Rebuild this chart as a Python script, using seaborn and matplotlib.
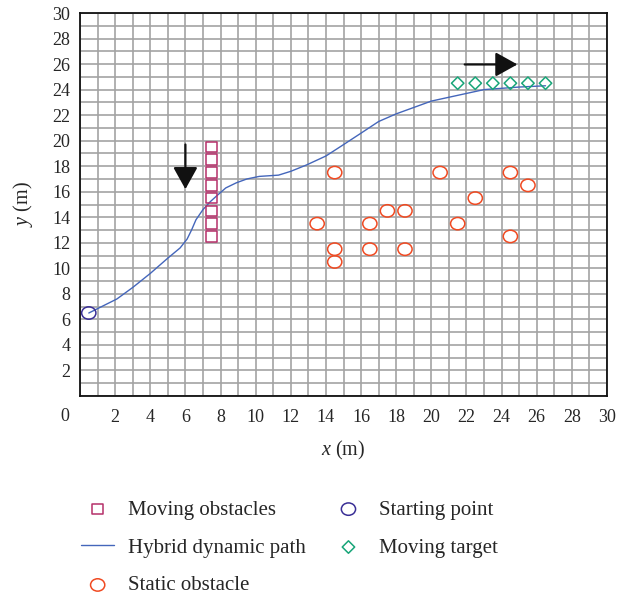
import numpy as np
import seaborn as sns
import matplotlib.pyplot as plt
from matplotlib.path import Path
from matplotlib.transforms import Affine2D

# moving obstacles (column of squares)
moving_obs_x = [7.5, 7.5, 7.5, 7.5, 7.5, 7.5, 7.5, 7.5]
moving_obs_y = [12.5, 13.5, 14.5, 15.5, 16.5, 17.5, 18.5, 19.5]

# static obstacles
static_x = [14.5, 20.5, 24.5, 25.5, 22.5, 17.5, 18.5, 13.5, 16.5, 21.5, 24.5, 14.5, 16.5, 18.5, 14.5]
static_y = [17.5, 17.5, 17.5, 16.5, 15.5, 14.5, 14.5, 13.5, 13.5, 13.5, 12.5, 11.5, 11.5, 11.5, 10.5]

# moving target
target_x = [21.5, 22.5, 23.5, 24.5, 25.5, 26.5]
target_y = [24.5, 24.5, 24.5, 24.5, 24.5, 24.5]

# starting point
start_x = [0.5]
start_y = [6.5]

# hybrid dynamic path
path_x = [0.5, 2.1, 3.0, 4.0, 5.0, 5.7, 6.1, 6.35, 6.6, 7.0, 7.4, 7.8, 8.3, 8.9, 9.5, 10.2,
          11.3, 12.0, 12.9, 14.0, 14.9, 15.9, 17.0, 18.0, 19.0, 20.0, 21.0, 22.0, 23.0,
          24.0, 25.0, 26.5]
path_y = [6.5, 7.6, 8.5, 9.6, 10.8, 11.6, 12.3, 13.0, 13.8, 14.6, 15.2, 15.7, 16.3, 16.7, 17.0,
          17.2, 17.3, 17.6, 18.1, 18.8, 19.6, 20.5, 21.5, 22.1, 22.6, 23.1, 23.4, 23.7, 24.0,
          24.1, 24.2, 24.3]

tick_vals = list(range(0, 31))
tick_labels = ["" if (v == 0 or v % 2) else str(v) for v in tick_vals]

sns.set_theme(style="white")
plt.rcParams["font.family"] = ["Liberation Serif", "DejaVu Serif"]
plt.rcParams["mathtext.fontset"] = "custom"
plt.rcParams["mathtext.it"] = "Liberation Serif:italic"
plt.rcParams["mathtext.rm"] = "Liberation Serif"

fig = plt.figure(figsize=(6.27, 5.95), dpi=100)
ax = fig.add_axes([80 / 627, 1 - 396 / 595, 527 / 627, 383 / 595])

# slightly flattened circle, like the reference
ellipse = Path.unit_circle().transformed(Affine2D().scale(1.15, 1.0))

sns.lineplot(ax=ax, x=path_x, y=path_y, sort=False, estimator=None, color="#4466bb",
             lw=1.0, label="Hybrid dynamic path", zorder=3)
sns.scatterplot(ax=ax, x=moving_obs_x, y=moving_obs_y, marker="s", s=60, facecolor="none",
                edgecolor="#b5306a", linewidth=1.1, label="Moving obstacles", zorder=4)
sns.scatterplot(ax=ax, x=static_x, y=static_y, marker=ellipse, s=105, facecolor="none",
                edgecolor="#f04a22", linewidth=1.1, label="Static obstacle", zorder=4)
sns.scatterplot(ax=ax, x=start_x, y=start_y, marker=ellipse, s=105, facecolor="none",
                edgecolor="#3a2f96", linewidth=1.1, label="Starting point", zorder=4)
sns.scatterplot(ax=ax, x=target_x, y=target_y, marker="D", s=40, facecolor="none",
                edgecolor="#17a578", linewidth=1.1, label="Moving target", zorder=4)

arrow = dict(arrowstyle="-|>,head_length=0.9,head_width=0.5", color="#111111", lw=1.6,
             mutation_scale=15, shrinkA=0, shrinkB=0)
ax.annotate("", xy=(6.0, 16.2), xytext=(6.0, 19.7), arrowprops=arrow, zorder=5)
ax.annotate("", xy=(24.9, 25.97), xytext=(21.9, 25.97), arrowprops=arrow, zorder=5)

ax.set_xlim(0, 30)
ax.set_ylim(0, 30)
ax.set_xticks(tick_vals)
ax.set_yticks(tick_vals)
ax.set_xticklabels(tick_labels)
ax.set_yticklabels(tick_labels)
ax.tick_params(length=0, labelsize=13)
ax.tick_params(axis="x", pad=9)
ax.tick_params(axis="y", pad=7)
ax.grid(True, color="#a3a3a3", lw=1.2)
ax.set_axisbelow(True)
for sp in ax.spines.values():
    sp.set_color("#111111")
    sp.set_linewidth(1.3)
    sp.set_visible(True)
ax.text(-0.85, -1.6, "0", ha="center", va="center", fontsize=13, color="#262626")

ax.set_xlabel("$x$ (m)", fontsize=14.5, labelpad=10)
ax.set_ylabel("$y$ (m)", fontsize=14.5, labelpad=12)

h, l = ax.get_legend_handles_labels()
order = ["Moving obstacles", "Hybrid dynamic path", "Static obstacle", "Starting point", "Moving target"]
hd = dict(zip(l, h))
ax.legend([hd[k] for k in order], order, ncol=2, frameon=False, fontsize=15,
          loc="upper left", bbox_to_anchor=(81 / 627, 1 - 500 / 595),
          bbox_transform=fig.transFigure, borderpad=0, borderaxespad=0,
          handlelength=1.6, handletextpad=0.65, columnspacing=1.25, labelspacing=0.88)

fig.savefig("out.png", dpi=100)
